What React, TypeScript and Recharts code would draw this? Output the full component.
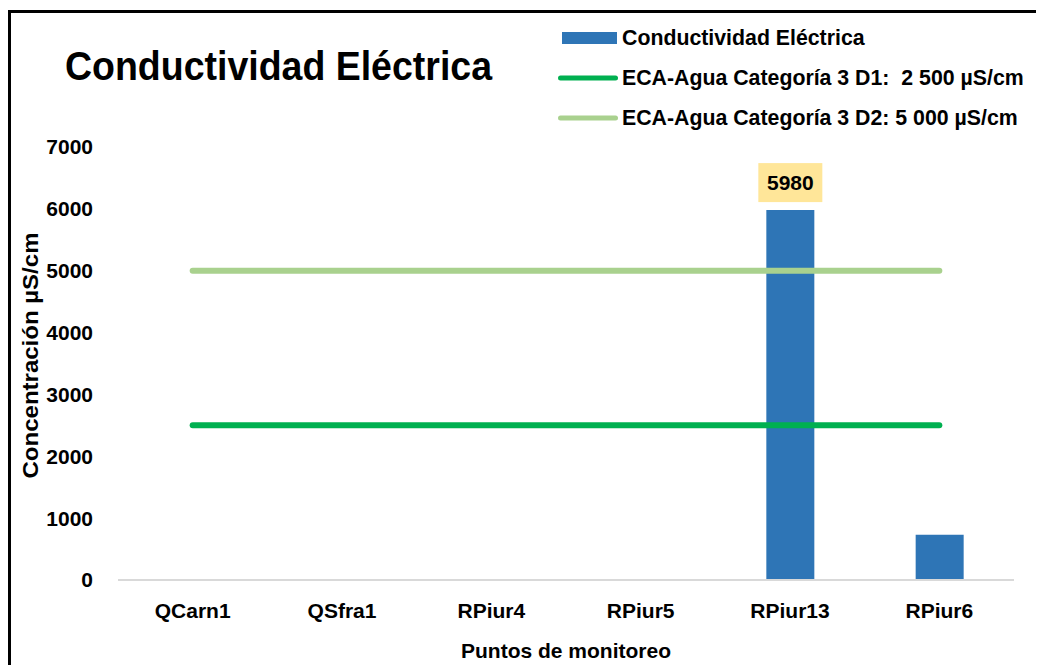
import React from "react";
import { ComposedChart, Bar, Line, XAxis, YAxis, Legend, LabelList } from "recharts";

const categories = ["QCarn1", "QSfra1", "RPiur4", "RPiur5", "RPiur13", "RPiur6"];
const conductividad = [null, null, null, null, 5980, 730];
const ecaD1 = [2500, 2500, 2500, 2500, 2500, 2500];
const ecaD2 = [5000, 5000, 5000, 5000, 5000, 5000];
const labelledPoints = ["RPiur13"];
const yTicks = [0, 1000, 2000, 3000, 4000, 5000, 6000, 7000];

const data = categories.map((punto, i) => ({
  punto,
  ce: conductividad[i],
  ceLabel: labelledPoints.includes(punto) ? conductividad[i] : null,
  d1: ecaD1[i],
  d2: ecaD2[i],
}));

const FONT = "'Liberation Sans', Arial, sans-serif";

const ValueLabel = (props: any) => {
  const { x, y, width, value } = props;
  if (value == null || value === "") return null;
  const cx = Number(x) + Number(width) / 2;
  const top = Number(y);
  return (
    <g>
      <rect x={cx - 32} y={top - 47} width={64} height={39} fill="#FFE699" />
      <text
        x={cx}
        y={top - 27.5}
        textAnchor="middle"
        dominantBaseline="central"
        fontFamily={FONT}
        fontWeight="bold"
        fontSize={21}
        fill="#000"
      >
        {value}
      </text>
    </g>
  );
};

const renderLegend = ({ payload }: any) => (
  <svg width={480} height={125} style={{ display: "block" }}>
    {(payload || []).map((entry: any, i: number) => {
      const cy = 25 + 40 * i;
      return (
        <g key={i}>
          {entry.type === "rect" ? (
            <rect x={6} y={cy - 6} width={55} height={12} fill={entry.color} />
          ) : (
            <line x1={4.5} x2={59.5} y1={cy} y2={cy} stroke={entry.color} strokeWidth={5} strokeLinecap="round" />
          )}
          <text
            x={66}
            y={cy}
            dominantBaseline="central"
            fontFamily={FONT}
            fontWeight="bold"
            fontSize={21.3}
            fill="#000"
            style={{ whiteSpace: "pre" }}
          >
            {entry.value}
          </text>
        </g>
      );
    })}
  </svg>
);

const YLabel = (props: any) => {
  const vb = props.viewBox || { y: 134, height: 433 };
  const cx = 19;
  const cy = vb.y + vb.height / 2 - 8;
  return (
    <text
      x={cx}
      y={cy}
      transform={`rotate(-90, ${cx}, ${cy})`}
      textAnchor="middle"
      dominantBaseline="central"
      fontFamily={FONT}
      fontWeight="bold"
      fontSize={22}
      textLength={246}
      lengthAdjust="spacingAndGlyphs"
      fill="#000"
    >
      Concentración µS/cm
    </text>
  );
};

export default function App() {
  return (
    <div
      style={{
        position: "relative",
        top: 2,
        width: 1036,
        height: 657,
        borderTop: "3px solid #000",
        borderLeft: "3px solid #000",
        boxSizing: "border-box",
        background: "#fff",
      }}
    >
      <style>{"html,body{overflow:hidden}"}</style>
      <svg width={700} height={100} style={{ position: "absolute", left: 0, top: 0 }}>
        <text
          x={54}
          y={67}
          fontFamily={FONT}
          fontWeight="bold"
          fontSize={40}
          textLength={427}
          lengthAdjust="spacingAndGlyphs"
          fill="#000"
        >
          Conductividad Eléctrica
        </text>
      </svg>
      <ComposedChart
        width={1033}
        height={654}
        data={data}
        margin={{ top: 134, right: 30, left: 0, bottom: 0 }}
      >
        <XAxis
          dataKey="punto"
          height={87}
          axisLine={{ stroke: "#D9D9D9", strokeWidth: 2 }}
          tickLine={false}
          tickSize={0}
          tickMargin={23}
          tick={{ fontSize: 21, fontWeight: "bold", fill: "#000", fontFamily: FONT }}
          label={{
            value: "Puntos de monitoreo",
            position: "insideBottom",
            offset: 9,
            style: { fontSize: 21, fontWeight: "bold", fill: "#000", fontFamily: FONT },
          }}
        />
        <YAxis
          width={107}
          domain={[0, 7000]}
          ticks={yTicks}
          axisLine={false}
          tickLine={false}
          tickSize={0}
          tickMargin={25}
          tick={{ fontSize: 21, fontWeight: "bold", fill: "#000", fontFamily: FONT }}
          label={{ content: YLabel }}
        />
        <Legend
          layout="vertical"
          align="center"
          verticalAlign="middle"
          content={renderLegend}
          wrapperStyle={{ position: "absolute", left: 545, top: 0, width: 480, height: 125 }}
        />
        <Bar
          dataKey="ce"
          name="Conductividad Eléctrica"
          fill="#2E75B6"
          barSize={48}
          legendType="rect"
          isAnimationActive={false}
        >
          <LabelList dataKey="ceLabel" content={ValueLabel} />
        </Bar>
        <Line
          type="linear"
          dataKey="d1"
          name="ECA-Agua Categoría 3 D1:  2 500 µS/cm"
          stroke="#00B050"
          strokeWidth={6}
          strokeLinecap="round"
          dot={false}
          activeDot={false}
          legendType="line"
          isAnimationActive={false}
        />
        <Line
          type="linear"
          dataKey="d2"
          name="ECA-Agua Categoría 3 D2: 5 000 µS/cm"
          stroke="#A9D18E"
          strokeWidth={6}
          strokeLinecap="round"
          dot={false}
          activeDot={false}
          legendType="line"
          isAnimationActive={false}
        />
      </ComposedChart>
    </div>
  );
}
